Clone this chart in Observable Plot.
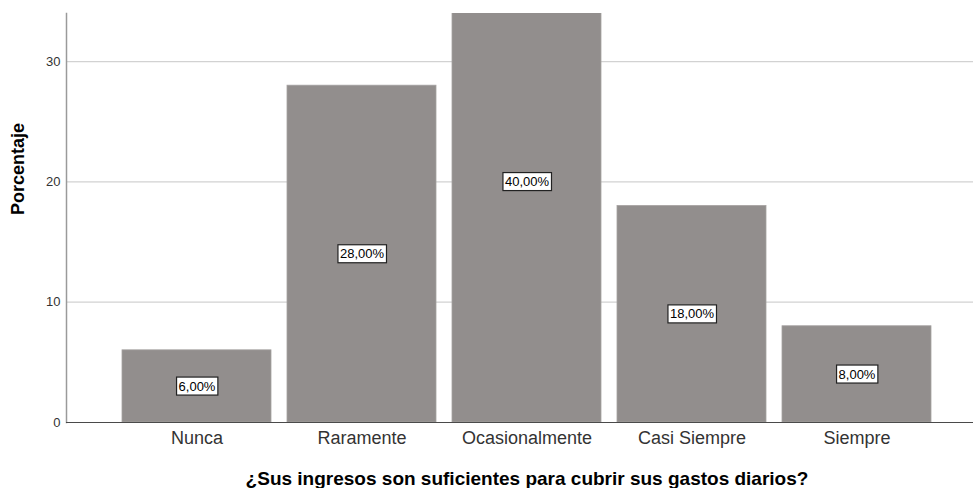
<!DOCTYPE html>
<html>
<head>
<meta charset="utf-8">
<script src="https://cdn.jsdelivr.net/npm/d3@7"></script>
<script src="https://cdn.jsdelivr.net/npm/@observablehq/plot@0.6"></script>
<style>
  html, body { margin: 0; padding: 0; background: white; }
</style>
</head>
<body>
<div id="chart"></div>
<script>
const categories = ["Nunca", "Raramente", "Ocasionalmente", "Casi Siempre", "Siempre"];
const percentages = [6, 28, 40, 18, 8];
const valueLabels = ["6,00%", "28,00%", "40,00%", "18,00%", "8,00%"];
const yTicks = [0, 10, 20, 30];
const xTitle = "¿Sus ingresos son suficientes para cubrir sus gastos diarios?";
const yTitle = "Porcentaje";

const data = categories.map((c, i) => ({cat: c, pct: percentages[i], label: valueLabels[i]}));

const chart = Plot.plot({
  width: 973,
  height: 488,
  marginLeft: 66,
  marginRight: 0,
  marginTop: 13,
  marginBottom: 66,
  style: {fontFamily: "Arial, 'Liberation Sans', sans-serif", background: "white", overflow: "visible"},
  x: {domain: categories, range: [120, 933], paddingInner: 0.1, paddingOuter: 0, label: null},
  y: {domain: [0, 34], label: null},
  marks: [
    Plot.gridY(yTicks, {stroke: "#d2d2d2", strokeOpacity: 1, strokeWidth: 1.2}),
    Plot.barY(data, {x: "cat", y: "pct", fill: "#928e8d", stroke: "#a5a2a1", strokeWidth: 0.8, clip: true}),
    Plot.frame({anchor: "left", stroke: "#9a9a9a", strokeWidth: 1.5}),
    Plot.ruleY([0], {stroke: "#4a4a4a", strokeWidth: 1.2}),
    Plot.axisY({ticks: yTicks, tickSize: 0, tickPadding: 6, fontSize: 13, fill: "#333", label: null}),
    Plot.axisX({tickSize: 0, tickPadding: 9, fontSize: 18, fill: "#333", label: null}),
    Plot.text(data, {x: "cat", y: d => d.pct / 2, text: "label", fontSize: 13, fill: "black"}),
    Plot.text([xTitle], {frameAnchor: "bottom", textAnchor: "middle", lineAnchor: "middle", dx: 7, dy: 56, fontWeight: "bold", fontSize: 19, fill: "black"}),
    Plot.text([yTitle], {frameAnchor: "left", textAnchor: "middle", lineAnchor: "middle", rotate: -90, dx: -48, dy: -49, fontWeight: "bold", fontSize: 18, fill: "black"})
  ]
});

document.getElementById("chart").append(chart);

// white boxes with black border behind the value labels
const ns = "http://www.w3.org/2000/svg";
const labelSet = new Set(valueLabels);
Array.from(chart.querySelectorAll("text"))
  .filter(t => labelSet.has(t.textContent.trim()))
  .forEach(t => {
    const b = t.getBBox();
    const r = document.createElementNS(ns, "rect");
    r.setAttribute("x", b.x - 2);
    r.setAttribute("y", b.y - 1.5);
    r.setAttribute("width", b.width + 4);
    r.setAttribute("height", b.height + 3);
    r.setAttribute("fill", "white");
    r.setAttribute("stroke", "#222");
    r.setAttribute("stroke-width", "1.2");
    const tr = t.getAttribute("transform");
    if (tr) r.setAttribute("transform", tr);
    t.parentNode.insertBefore(r, t);
  });
</script>
</body>
</html>
